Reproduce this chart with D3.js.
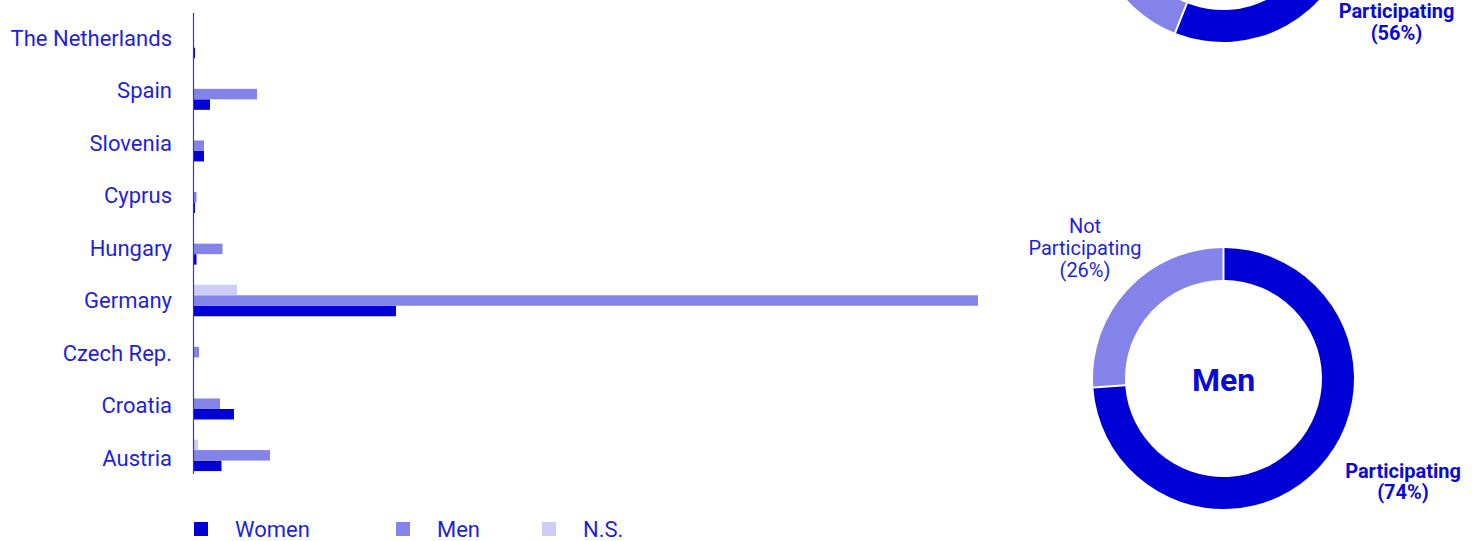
<!DOCTYPE html>
<html>
<head>
<meta charset="utf-8">
<script src="https://cdn.jsdelivr.net/npm/d3@7"></script>
<style>
  body { margin: 0; background: #fff; }
  svg { display: block; font-family: Roboto, "Noto Sans", sans-serif; }
</style>
</head>
<body>
<svg id="chart" width="1480" height="541"></svg>
<script>
// data
const countries = ["The Netherlands", "Spain", "Slovenia", "Cyprus", "Hungary", "Germany", "Czech Rep.", "Croatia", "Austria"];
const seriesNames = ["Women", "Men", "N.S."];
const women = [2, 17, 11, 2, 3.5, 203, 0, 41, 28.5];
const men = [0, 64, 11, 3.5, 29.5, 785, 6, 27, 77];
const notSpecified = [0, 0, 0, 0, 1, 44, 0, 1, 5];

const donutTitles = ["Women", "Men"];
const donutLabels = ["Participating", "Not Participating"];
const womenShare = [56, 44];
const menShare = [74, 26];

const colors = {"Women": "#0000d6", "Men": "#8383ea", "N.S.": "#cdcdf5"};
const textColor = "#1f1fd9";

document.addEventListener("DOMContentLoaded", () => {
    const svg = d3.select("#chart");

    const rows = countries.map((c, i) => ({
        country: c,
        "Women": women[i],
        "Men": men[i],
        "N.S.": notSpecified[i]
    }));

    // scales
    const x = d3.scaleLinear().domain([0, 785]).range([193, 978]);
    const y = d3.scaleBand()
        .domain(countries)
        .range([13, 484.8])
        .paddingInner(0.39)
        .paddingOuter(0.266);
    // bars inside each band: N.S. on top, then Men, then Women
    const inner = d3.scaleBand()
        .domain(["N.S.", "Men", "Women"])
        .range([0, y.bandwidth()]);
    const labelY = d3.scalePoint().domain(countries).range([38, 458]);

    // country labels
    svg.append("g")
        .selectAll("text")
        .data(countries)
        .enter()
        .append("text")
        .attr("x", 172)
        .attr("y", d => labelY(d))
        .attr("dy", "0.36em")
        .attr("text-anchor", "end")
        .style("font-size", "22px")
        .style("fill", textColor)
        .text(d => d);

    // bars
    const groups = svg.append("g")
        .selectAll("g")
        .data(rows)
        .enter()
        .append("g")
        .attr("transform", d => `translate(0, ${y(d.country)})`);

    groups.selectAll("rect")
        .data(d => seriesNames.map(s => ({key: s, value: d[s]})))
        .enter()
        .append("rect")
        .attr("x", x(0))
        .attr("y", d => inner(d.key))
        .attr("width", d => x(d.value) - x(0))
        .attr("height", inner.bandwidth())
        .attr("fill", d => colors[d.key]);

    // axis line
    svg.append("line")
        .attr("x1", x(0) + 0.5)
        .attr("x2", x(0) + 0.5)
        .attr("y1", y.range()[0])
        .attr("y2", 474)
        .attr("stroke", "#3535e0")
        .attr("stroke-width", 1.2);

    // legend
    const legendX = [194, 396, 542];
    const legend = svg.append("g")
        .selectAll("g")
        .data(seriesNames)
        .enter()
        .append("g")
        .attr("transform", (d, i) => `translate(${legendX[i]}, 522)`);

    legend.append("rect")
        .attr("width", 14)
        .attr("height", 14)
        .attr("fill", d => colors[d]);

    legend.append("text")
        .attr("x", 41)
        .attr("y", 14.5)
        .style("font-size", "22px")
        .style("fill", textColor)
        .text(d => d);

    // donuts
    const donutColors = ["#0000d6", "#8383ea"];
    const donuts = [
        {title: donutTitles[0], values: womenShare, cx: 1223, cy: -88.5,
         offsets: [[173.5, 106.8], [-138.5, -145.5]]},
        {title: donutTitles[1], values: menShare, cx: 1223.5, cy: 378.5,
         offsets: [[179.5, 99.2], [-138.5, -145.5]]}
    ];

    const pie = d3.pie().sort(null).value(d => d).padAngle(0.012);
    const arc = d3.arc().innerRadius(98.5).outerRadius(130.5);

    donuts.forEach(dn => {
        const g = svg.append("g")
            .attr("transform", `translate(${dn.cx}, ${dn.cy})`);

        g.selectAll("path")
            .data(pie(dn.values))
            .enter()
            .append("path")
            .attr("d", arc)
            .attr("fill", (d, i) => donutColors[i]);

        // the upper donut sits partly above the page: skip texts that fall outside it
        if (dn.cy + 12.5 > 0) {
            g.append("text")
                .attr("text-anchor", "middle")
                .attr("y", 12.5)
                .style("font-size", "32px")
                .style("font-weight", "bold")
                .style("fill", "#0a0ad4")
                .text(dn.title);
        }

        // slice labels
        dn.values.forEach((v, i) => {
            const words = donutLabels[i] === "Participating"
                ? ["Participating", `(${v}%)`]
                : ["Not", "Participating", `(${v}%)`];
            const bold = i === 0;
            const lh = bold ? 21.5 : 22;
            const lastY = dn.cy + dn.offsets[i][1] + (words.length - 1) * lh;
            if (lastY < 0) return;
            const t = g.append("text")
                .attr("text-anchor", "middle")
                .style("font-size", "20px")
                .style("font-weight", bold ? "bold" : "normal")
                .style("fill", bold ? "#0a0ad4" : textColor);
            words.forEach((w, k) => {
                t.append("tspan")
                    .attr("x", dn.offsets[i][0])
                    .attr("y", dn.offsets[i][1] + k * lh)
                    .text(w);
            });
        });
    });
});
</script>
</body>
</html>
